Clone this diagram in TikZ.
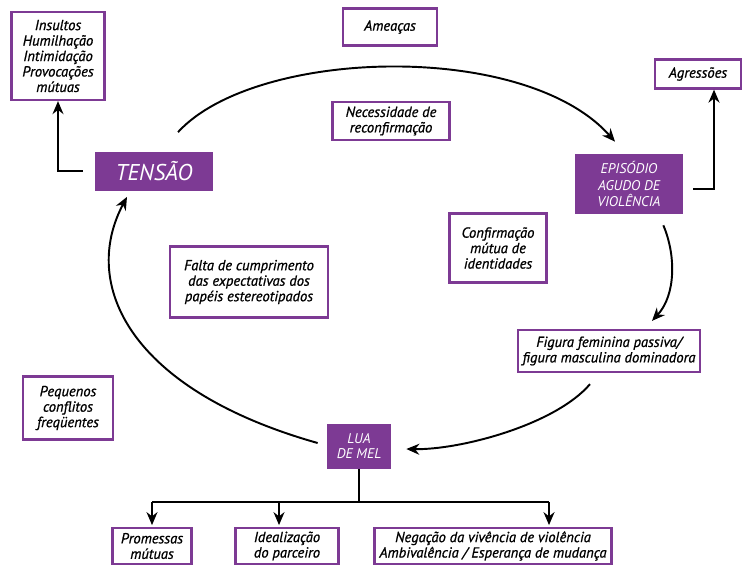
\documentclass[tikz,border=0pt]{standalone}
\usepackage{fontspec}
\setmainfont{PT Sans}
\newfontfamily\noteFont{PT Sans}[FakeBold=0.9]
\usepackage{xcolor}
\usepackage{tikz}
\usetikzlibrary{positioning,calc,arrows.meta}
\definecolor{cyclePurple}{RGB}{125,58,148}
\tikzset{
  cycleBox/.style={
    rectangle,
    draw=none,
    fill=cyclePurple,
    text=white,
    font=\itshape\fontsize{8}{9.5}\selectfont,
    inner sep=0pt,
    align=center
  },
  noteBox/.style={
    rectangle,
    draw=cyclePurple,
    line width=1.3pt,
    fill=white,
    font=\noteFont\itshape\fontsize{8.3}{8.8}\selectfont,
    inner sep=0pt,
    align=center
  },
  arrowLine/.style={
    -{Stealth[length=2.6mm,width=2.2mm]},
    line width=1.1pt
  }
}

\begin{document}
\begin{tikzpicture}[x=0.02cm,y=-0.02cm]
        \useasboundingbox (0,0) rectangle (753,565);

        % phases of the cycle
        \node[cycleBox, minimum width=2.36cm, minimum height=0.78cm, font=\itshape\fontsize{13}{14}\selectfont] (tension) at (154,171) {TENSÃO};
        \node[cycleBox, minimum width=2.16cm, minimum height=1.2cm] (episode) at (629,184) {EPISÓDIO\\AGUDO DE\\VIOLÊNCIA};
        \node[cycleBox, minimum width=1.28cm, minimum height=0.9cm, font=\itshape\fontsize{8}{8.8}\selectfont] (honeymoon) at (359,446) {LUA\\DE MEL};

        % notes
        \node[noteBox, minimum width=1.86cm, minimum height=1.76cm] (insults) at (58,56) {Insultos\\Humilhação\\Intimidação\\Provocações\\mútuas};
        \node[noteBox, minimum width=1.88cm, minimum height=0.74cm] (threats) at (390,27) {Ameaças};
        \node[noteBox, minimum width=1.72cm, minimum height=0.58cm] (aggress) at (698,74) {Agressões};
        \node[noteBox, minimum width=2.34cm, minimum height=0.76cm] (reconfirm) at (391,121) {Necessidade de\\reconfirmação};
        \node[noteBox, minimum width=1.94cm, minimum height=1.38cm] (identity) at (498,248) {Confirmação\\mútua de\\identidades};
        \node[noteBox, minimum width=3.16cm, minimum height=1.42cm] (roles) at (249,282) {Falta de cumprimento\\das expectativas dos\\papéis estereotipados};
        \node[noteBox, minimum width=3.64cm, minimum height=0.84cm] (figures) at (609,351) {Figura feminina passiva/\\figura masculina dominadora};
        \node[noteBox, minimum width=1.8cm, minimum height=1.26cm] (conflicts) at (68,408) {Pequenos\\conflitos\\freqüentes};
        \node[noteBox, minimum width=1.58cm, minimum height=0.72cm] (promises) at (152,546) {Promessas\\mútuas};
        \node[noteBox, minimum width=2.06cm, minimum height=0.72cm] (ideal) at (287,546) {Idealização\\do parceiro};
        \node[noteBox, minimum width=4.74cm, minimum height=0.72cm] (denial) at (493,546) {Negação da vivência de violência\\Ambivalência / Esperança de mudança};

        % the cycle
        \draw[arrowLine] ([shift={(24,-19)}]tension.north) .. controls (255,48) and (525,40) .. ([shift={(-14,-12)}]episode.north);
        \draw[arrowLine] ([shift={(-20,11)}]episode.south east) .. controls (676,255) and (676,295) .. ([shift={(43,-8)}]figures.north);
        \draw[arrowLine] ([shift={(-19,11)}]figures.south) .. controls (555,425) and (460,450) .. ([shift={(15,3)}]honeymoon.east);
        \draw[arrowLine] ([shift={(-9,-3)}]honeymoon.west) .. controls (130,390) and (80,285) .. ([shift={(-27,6)}]tension.south);

        % side effects
        \draw[arrowLine] ([shift={(-12,0)}]tension.west) -| (insults.south);
        \draw[arrowLine] ([shift={(10,5)}]episode.east) -| ([shift={(16,0)}]aggress.south);

        % honeymoon branches
        \coordinate (split) at (359,502);
        \coordinate (ideallink) at ([shift={(-8,0)}]ideal.north);
        \coordinate (deniallink) at ([shift={(56,0)}]denial.north);
        \draw[line width=1.1pt] (honeymoon.south) -- (split);
        \draw[line width=1.1pt] (promises.north |- split) -- (deniallink |- split);
        \draw[arrowLine] (promises.north |- split) -- ([yshift=1pt]promises.north);
        \draw[arrowLine] (ideallink |- split) -- ([yshift=1pt]ideallink);
        \draw[arrowLine] (deniallink |- split) -- ([yshift=1pt]deniallink);
    \end{tikzpicture}
\end{document}
